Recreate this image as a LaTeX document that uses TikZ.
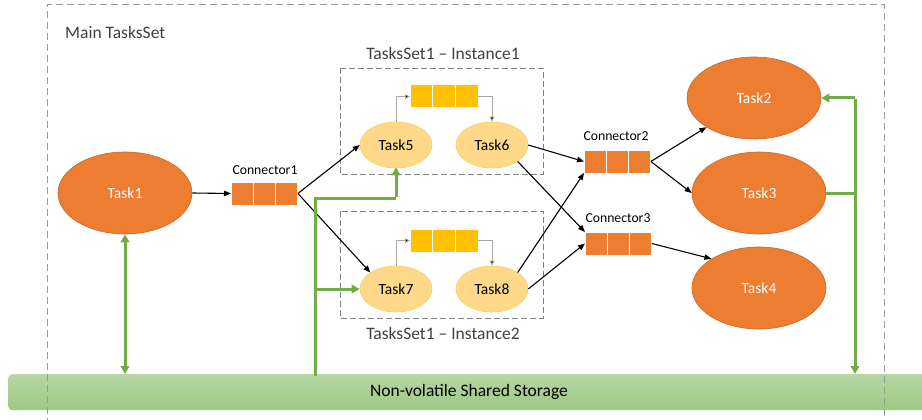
\documentclass[tikz,border=0pt]{standalone}
\usepackage{fontspec}
\setmainfont{Carlito}
\usetikzlibrary{arrows.meta,shapes.geometric}
\definecolor{orangeT}{HTML}{ED7D31}
\definecolor{orangeB}{HTML}{C8652A}
\definecolor{lightT}{HTML}{FFD98A}
\definecolor{lightB}{HTML}{FFCC66}
\definecolor{qyellow}{HTML}{FFC000}
\definecolor{greenL}{HTML}{70AD47}
\definecolor{bandTop}{HTML}{B6D7A4}
\definecolor{bandBot}{HTML}{9CC983}
\definecolor{txtgray}{HTML}{404040}
\definecolor{boxgray}{HTML}{7F7F7F}
\tikzset{
  bigtask/.style={ellipse,draw=orangeB,line width=0.6pt,fill=orangeT,minimum width=134pt,minimum height=82pt,inner sep=0pt,text=white,font=\fontsize{15.5}{18}\selectfont},
  smalltask/.style={ellipse,draw=lightB,line width=0.6pt,fill=lightT,minimum width=72pt,minimum height=46pt,inner sep=0pt,text=black,font=\fontsize{15.5}{18}\selectfont},
  cell/.style={rectangle,fill=orangeT,draw=white,line width=1pt,minimum width=22.3pt,minimum height=23pt,inner sep=0pt,outer sep=0pt},
  ycell/.style={rectangle,fill=qyellow,draw=white,line width=1pt,minimum width=22.7pt,minimum height=23pt,inner sep=0pt,outer sep=0pt},
  grpbox/.style={draw=boxgray,line width=0.9pt,dash pattern=on 6pt off 3pt},
  lbl/.style={text=txtgray,font=\fontsize{17.5}{20}\selectfont,inner sep=0pt},
  clbl/.style={text=black,font=\fontsize{13.7}{16}\selectfont,inner sep=0pt},
  flow/.style={draw=black,line width=1.1pt,-{Triangle[length=7pt,width=5.5pt]}},
  qflow/.style={draw=gray!70,line width=0.8pt,-{Triangle[length=5pt,width=4.5pt,fill=black]}},
  gflow/.style={draw=greenL,line width=3pt,-{Triangle[length=8pt,width=8.5pt]}},
  gline/.style={draw=greenL,line width=3pt},
}
\begin{document}
\begin{tikzpicture}[x=1pt,y=-1pt]
\useasboundingbox (0,0) rectangle (922,420);
% storage band
\node[rounded corners=4pt,top color=bandTop,bottom color=bandBot,draw=none,minimum width=930pt,minimum height=36pt,anchor=north west,inner sep=0pt] (band) at (8,374) {};
\node[font=\fontsize{17.5}{20}\selectfont,text=black,inner sep=0pt] (bandtxt) at (469,392) {Non-volatile Shared Storage};
% main box
\draw[draw=boxgray!80,line width=1pt,dash pattern=on 7pt off 4pt] (47,425) -- (47,5) -- (884,5) -- (884,425);
\node[lbl,anchor=west] (mainlbl) at (65,32) {Main TasksSet};
% instance boxes
\draw[grpbox] (340,68) rectangle (543,174);
\draw[grpbox] (340,211) rectangle (543,318);
\node[lbl] (i1lbl) at (443,53) {TasksSet1 – Instance1};
\node[lbl] (i2lbl) at (443,333) {TasksSet1 – Instance2};
% big tasks
\node[bigtask] (t1) at (125,193) {Task1};
\node[bigtask] (t2) at (754,98) {Task2};
\node[bigtask] (t3) at (759,193) {Task3};
\node[bigtask] (t4) at (759,288) {Task4};
% small tasks
\node[smalltask] (t5) at (396,145) {Task5};
\node[smalltask] (t6) at (492,145) {Task6};
\node[smalltask] (t7) at (396,289) {Task7};
\node[smalltask] (t8) at (492,289) {Task8};
% connectors
\foreach \n/\x/\y in {c1/231/182, c2/584/150, c3/585/232}{
  \node[cell,anchor=north west] (\n a) at (\x,\y) {};
  \node[cell,anchor=west] (\n b) at (\n a.east) {};
  \node[cell,anchor=west] (\n c) at (\n b.east) {};
}
\node[clbl] (c1lbl) at (265,170) {Connector1};
\node[clbl] (c2lbl) at (616,136) {Connector2};
\node[clbl] (c3lbl) at (618,218) {Connector3};
% internal queues
\foreach \n/\y in {q1/85, q2/229}{
  \node[ycell,anchor=north west] (\n a) at (410,\y) {};
  \node[ycell,anchor=west] (\n b) at (\n a.east) {};
  \node[ycell,anchor=west] (\n c) at (\n b.east) {};
}
\draw[qflow] (t5.north) |- (q1a.west);
\draw[qflow] (q1c.east) -| (t6.north);
\draw[qflow] (t7.north) |- (q2a.west);
\draw[qflow] (q2c.east) -| (t8.north);
% black flows
\coordinate (c1in) at (c1a.west);
\coordinate (c1out) at (c1c.east);
\coordinate (c2in) at (c2a.west);
\coordinate (c2out) at (c2c.east);
\coordinate (c3in) at (c3a.west);
\coordinate (c3out) at (c3c.east);
\draw[flow] (t1.east) -- (c1in);
\draw[flow] (c1out) -- (t5.west);
\draw[flow] (c1out) -- (t7.north west);
\draw[flow] (t6.east) -- (c2in);
\draw[flow] (t6.south east) -- (c3a.north west);
\draw[flow] (t8.north east) -- (c2a.south west);
\draw[flow] (t8.east) -- (c3in);
\draw[flow] (c2out) -- (t2.south west);
\draw[flow] (c2out) -- (t3.west);
\draw[flow] (c3out) -- (t4.north west);
% green flows
\coordinate (g1) at (125,374);
\draw[gline,{Triangle[length=8pt,width=8.5pt]}-{Triangle[length=8pt,width=8.5pt]}] (t1.south) -- (g1);
\coordinate (g2) at (315,376);
\coordinate (g2top) at (315,198);
\coordinate (g2mid) at (315,289);
\coordinate (g2turn) at (396,198);
\draw[gline] (g2) -- (g2top) -- (g2turn);
\draw[gflow] ([yshift=1.5pt]g2turn) -- ([yshift=1pt]t5.south);
\draw[gflow] (g2mid) -- (t7.west);
\coordinate (g3top) at (855,98);
\coordinate (g3mid) at (855,193);
\coordinate (g3bot) at (855,374);
\draw[gline] (t3.east) -- (g3mid);
\draw[gline] ([yshift=-1.5pt]g3top) -- (g3mid);
\draw[gflow] (g3top) -- (t2.east);
\draw[gflow] (g3mid) -- (g3bot);
\end{tikzpicture}
\end{document}
